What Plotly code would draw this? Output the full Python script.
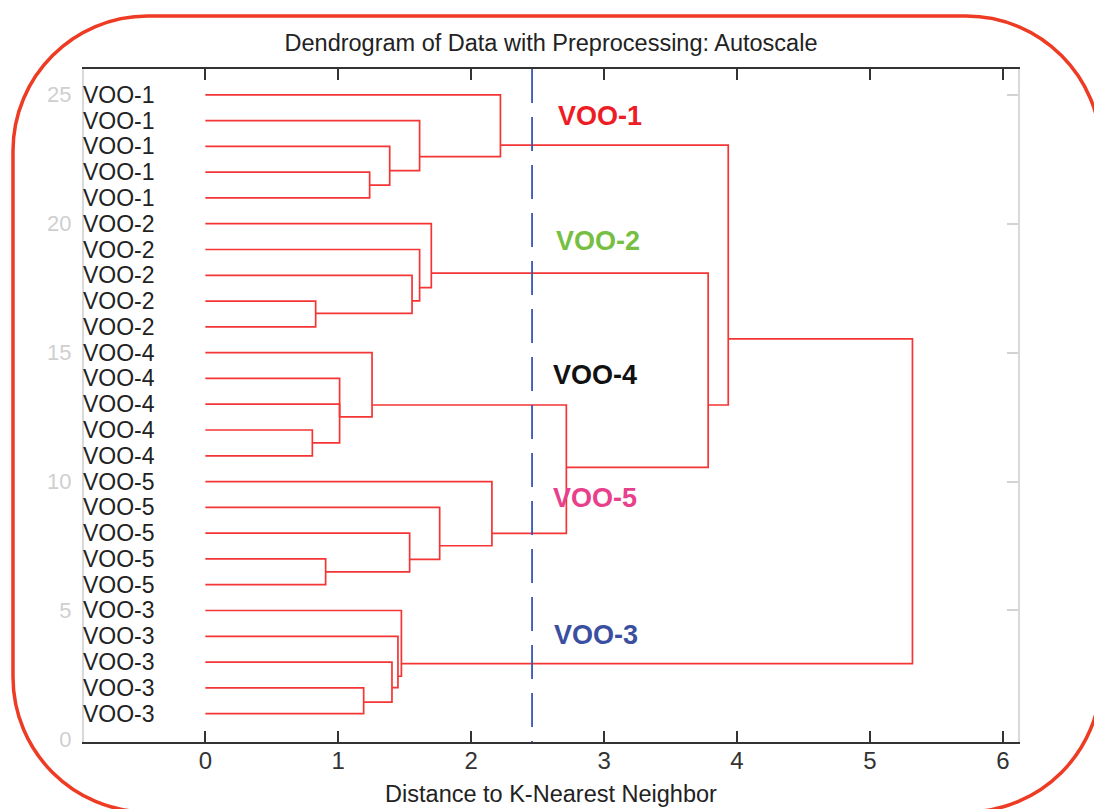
import plotly.graph_objects as go

# ---------------- data ----------------
# leaf labels, bottom (position 1) to top (position 25)
leaf_labels = [
    "VOO-3", "VOO-3", "VOO-3", "VOO-3", "VOO-3",
    "VOO-5", "VOO-5", "VOO-5", "VOO-5", "VOO-5",
    "VOO-4", "VOO-4", "VOO-4", "VOO-4", "VOO-4",
    "VOO-2", "VOO-2", "VOO-2", "VOO-2", "VOO-2",
    "VOO-1", "VOO-1", "VOO-1", "VOO-1", "VOO-1",
]
leaf_pos = list(range(1, 26))

# merges: node ids 1..25 are leaves, merge i creates node 26+i
merge_a = [22, 23, 24, 25, 17, 18, 19, 20, 12, 13, 14, 15, 7, 8, 9, 10, 2, 3, 4, 5, 37, 33, 29, 48]
merge_b = [21, 26, 27, 28, 16, 30, 31, 32, 11, 34, 35, 36, 6, 38, 39, 40, 1, 42, 43, 44, 41, 46, 47, 45]
merge_dist = [1.236, 1.387, 1.612, 2.220, 0.830, 1.555, 1.612, 1.700,
              0.805, 1.010, 1.010, 1.254, 0.905, 1.537, 1.763, 2.156,
              1.191, 1.404, 1.449, 1.475, 2.716, 3.783, 3.934, 5.320]
merge_ypos = [21.50, 22.06, 22.60, 23.05, 16.52, 17.01, 17.52, 18.08,
              11.50, 12.51, 12.51, 12.97, 6.50, 6.98, 7.51, 7.99,
              1.45, 2.01, 2.45, 2.94, 10.55, 12.97, 15.53, 9.20]

cutoff = 2.458

cluster_names = ["VOO-1", "VOO-2", "VOO-4", "VOO-5", "VOO-3"]
cluster_colors = ["#ee1c25", "#76bf43", "#111111", "#e8408a", "#3a4f9f"]
cluster_label_x = [2.636, 2.620, 2.603, 2.600, 2.611]
cluster_label_y = [24.17, 19.32, 14.15, 9.36, 4.06]

x_ticks = [0, 1, 2, 3, 4, 5, 6]
y_ticks = [0, 5, 10, 15, 20, 25]

# ---------------- build dendrogram lines ----------------
node_y = {p: float(p) for p in leaf_pos}
node_h = {p: 0.0 for p in leaf_pos}
xs, ys = [], []
for i, (a, b, d, yp) in enumerate(zip(merge_a, merge_b, merge_dist, merge_ypos)):
    xs += [node_h[a], d, d, node_h[b], None]
    ys += [node_y[a], node_y[a], node_y[b], node_y[b], None]
    nid = 26 + i
    node_y[nid] = yp
    node_h[nid] = d

XR = [-0.913, 6.114]
YR = [-0.1, 26.0]

fig = go.Figure()
fig.add_trace(go.Scatter(x=xs, y=ys, mode="lines",
                         line=dict(color="#f53434", width=1.7),
                         hoverinfo="skip", showlegend=False))
fig.add_trace(go.Scatter(x=[cutoff, cutoff], y=[YR[1], YR[0]], mode="lines",
                         line=dict(color="#3a56b3", width=1.8, dash="34px,14px"),
                         hoverinfo="skip", showlegend=False, yaxis="y2"))

annotations = []
for lab, p in zip(leaf_labels, leaf_pos):
    annotations.append(dict(x=XR[0], y=p, xref="x", yref="y", text=lab,
                            showarrow=False, xanchor="left", yanchor="middle",
                            xshift=-3,
                            font=dict(family="Liberation Sans, Arial", size=23, color="#222222")))
for name, col, cx, cy in zip(cluster_names, cluster_colors, cluster_label_x, cluster_label_y):
    annotations.append(dict(x=cx, y=cy, xref="x", yref="y", text="<b>" + name + "</b>",
                            showarrow=False, xanchor="left", yanchor="middle",
                            font=dict(family="Liberation Sans, Arial", size=27, color=col)))

# rounded red frame (pixel geometry converted to paper coords)
W, H = 1094, 809
ML, MR, MT, MB = 84, 76, 69, 67
PW, PH = W - ML - MR, H - MT - MB


def P(px, py):
    return "%.5f,%.5f" % ((px - ML) / PW, (H - MB - py) / PH)


x0f, x1f, y0f, y1f, R = 13, 1101, 16, 812, 135
k = 0.5523 * R
path = ("M " + P(x0f + R, y0f) + " L " + P(x1f - R, y0f) +
        " C " + P(x1f - R + k, y0f) + " " + P(x1f, y0f + R - k) + " " + P(x1f, y0f + R) +
        " L " + P(x1f, y1f - R) +
        " C " + P(x1f, y1f - R + k) + " " + P(x1f - R + k, y1f) + " " + P(x1f - R, y1f) +
        " L " + P(x0f + R, y1f) +
        " C " + P(x0f + R - k, y1f) + " " + P(x0f, y1f - R + k) + " " + P(x0f, y1f - R) +
        " L " + P(x0f, y0f + R) +
        " C " + P(x0f, y0f + R - k) + " " + P(x0f + R - k, y0f) + " " + P(x0f + R, y0f) + " Z")

fig.update_layout(
    width=W, height=H,
    margin=dict(l=ML, r=MR, t=MT, b=MB, pad=0, autoexpand=False),
    paper_bgcolor="white", plot_bgcolor="white",
    font=dict(family="Liberation Sans, Arial", color="#222222"),
    title=dict(text="Dendrogram of Data with Preprocessing: Autoscale",
               x=0.5, xref="paper", xanchor="center",
               y=1 - 43 / H, yref="container", yanchor="middle",
               font=dict(size=23.5, color="#222222")),
    xaxis=dict(range=XR, tickvals=x_ticks, ticktext=[str(v) for v in x_ticks],
               ticks="inside", ticklen=11, tickwidth=2, tickcolor="#333333",
               showline=True, linecolor="#333333", linewidth=2, mirror="ticks",
               showgrid=False, zeroline=False, automargin=False,
               ticklabelstandoff=-4,
               tickfont=dict(size=24, color="#333333"),
               title=dict(text="Distance to K-Nearest Neighbor", standoff=13,
                          font=dict(size=23.5, color="#222222"))),
    yaxis=dict(range=YR, tickvals=y_ticks, ticktext=[str(v) for v in y_ticks],
               ticks="", showline=True, linecolor="#d9d9d9", linewidth=2,
               showgrid=False, zeroline=False, ticklabelstandoff=6, automargin=False,
               tickfont=dict(size=22, color="#cfcfcf")),
    yaxis2=dict(range=YR, overlaying="y", side="right", tickvals=y_ticks[1:],
                ticks="inside", ticklen=11, tickwidth=2, tickcolor="#d3d3d3",
                showticklabels=False, showline=True, linecolor="#d9d9d9", linewidth=2,
                showgrid=False, zeroline=False, automargin=False),
    annotations=annotations,
    shapes=[dict(type="path", path=path, xref="paper", yref="paper",
                 line=dict(color="#ee3b24", width=3.5), layer="above")],
    showlegend=False,
)

fig.write_html("out.html", config={"displayModeBar": False},
               post_script="document.body.style.margin='0';document.body.style.overflow='hidden';")
